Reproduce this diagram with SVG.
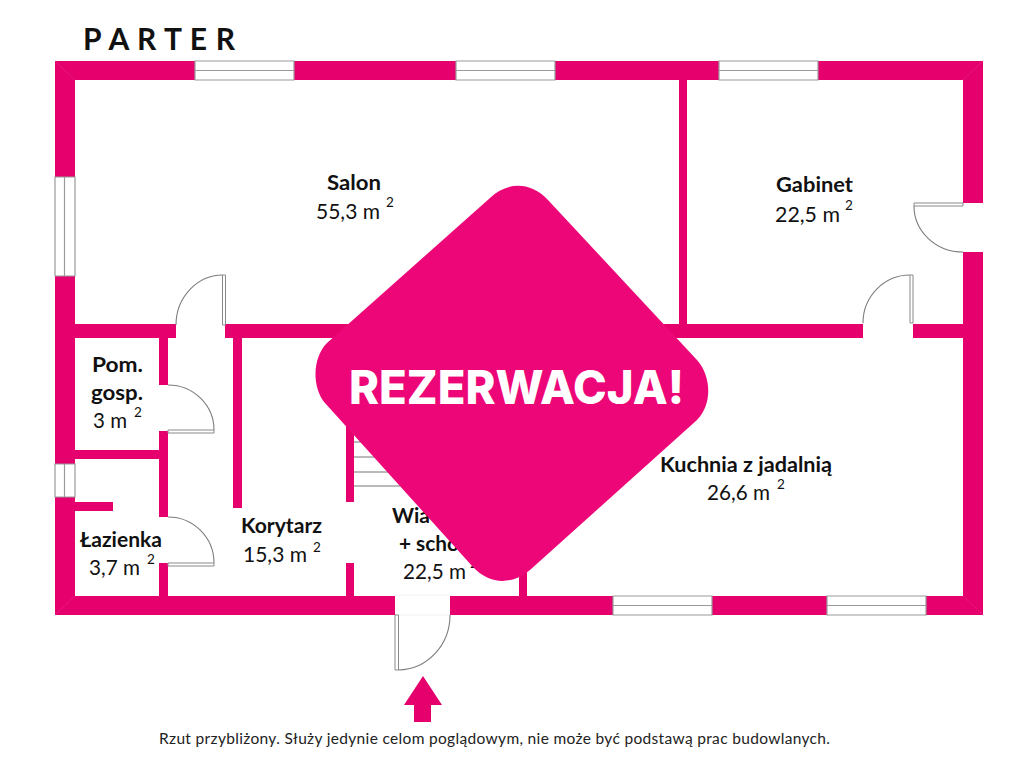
<svg xmlns="http://www.w3.org/2000/svg" width="1024" height="768" viewBox="0 0 1024 768">
<style>
text{font-family:Lato,"Open Sans","Liberation Sans",sans-serif;fill:#111}
.n{font-size:21.500px;font-weight:700}
.a{font-size:21.500px;font-weight:400}
.s{font-size:13.500px;font-weight:400}
.wall{fill:#e5006d}
.win{fill:#fff;stroke:#9a9a9a;stroke-width:1.2}
.gap{fill:#fff}
.door{fill:none;stroke:#7d7d7d;stroke-width:1.1}
.leaf{fill:#fff;stroke:#8a8a8a;stroke-width:1}
.step{stroke:#777;stroke-width:1.2}
</style>
<rect width="1024" height="768" fill="#fff"/>
<text x="83" y="50" font-size="30" font-weight="700" textLength="152" lengthAdjust="spacing">P A R T E R</text>
<g id="walls">
<path class="wall" fill-rule="evenodd" d="M55 61H983V615H55ZM75 80V596H963V80Z"/>
<rect class="wall" x="75" y="324" width="888" height="14"/>
<rect class="wall" x="679" y="80" width="8" height="245"/>
<rect class="wall" x="159" y="338" width="9" height="258"/>
<rect class="wall" x="75" y="450" width="85" height="9"/>
<rect class="wall" x="75" y="502" width="38" height="9"/>
<rect class="wall" x="233" y="338" width="9" height="170"/>
<rect class="wall" x="346" y="400" width="8" height="102"/>
<rect class="wall" x="346" y="563" width="8" height="33"/>
<rect class="wall" x="519" y="550" width="8" height="46"/>
<path d="M55 61L75 80M983 61L963 80M55 615L75 596M983 615L963 596" stroke="#ea2a84" stroke-width="0.6" fill="none"/>
</g>
<g id="windows">
<path class="win" d="M195 61H294V80H195ZM195 70.500H294"/>
<path class="win" d="M456 61H555V80H456ZM456 70.500H555"/>
<path class="win" d="M719 61H818V80H719ZM719 70.500H818"/>
<path class="win" d="M55 177H75V276H55ZM64.500 177V276"/>
<path class="win" d="M55 464H75V497H55ZM64.500 464V497"/>
<path class="win" d="M613 596H712V615H613ZM613 605.500H712"/>
<path class="win" d="M827 596H926V615H827ZM827 605.500H926"/>
</g>
<g id="stairs">
<path class="step" d="M354 442H400M354 457H400M354 472H400M354 486H400"/>
</g>
<g id="doors">
<rect class="gap" x="176" y="323" width="49" height="16"/>
<path class="leaf" d="M222.500 275H225.500V325H222.500Z"/>
<path class="door" d="M222.500 275A47 50 0 0 0 176 325"/>
<rect class="gap" x="863" y="323" width="50" height="16"/>
<path class="leaf" d="M910 275H913V323H910Z"/>
<path class="door" d="M910 275A47 48 0 0 0 863 323"/>
<rect class="gap" x="962" y="203" width="22" height="49"/>
<path class="leaf" d="M914 203H963V206H914Z"/>
<path class="door" d="M914 206A49 46 0 0 0 963 252"/>
<rect class="gap" x="158" y="385" width="11" height="46"/>
<path class="leaf" d="M168 430H214V433H168Z"/>
<path class="door" d="M168 385A46 45 0 0 1 214 430"/>
<rect class="gap" x="158" y="517" width="11" height="46"/>
<path class="leaf" d="M168 563H214V566H168Z"/>
<path class="door" d="M168 517A46 46 0 0 1 214 563"/>
<rect class="gap" x="395" y="595" width="55" height="21"/>
<path d="M395 595H450M395 615H450" stroke="#efefef" stroke-width="0.8"/>
<path class="leaf" d="M395 615H398.500V670H395Z"/>
<path class="door" d="M398.500 670A52 55 0 0 0 450 615"/>
</g>
<g id="labels">
<g id="salon"><text class="n" x="327" y="190" textLength="54" lengthAdjust="spacingAndGlyphs">Salon</text><text class="a" x="316" y="219" textLength="64" lengthAdjust="spacingAndGlyphs">55,3 m</text><text class="s" x="386" y="207">2</text></g>
<g id="gabinet"><text class="n" x="776" y="192" textLength="77" lengthAdjust="spacingAndGlyphs">Gabinet</text><text class="a" x="775" y="222" textLength="65" lengthAdjust="spacingAndGlyphs">22,5 m</text><text class="s" x="845" y="210">2</text></g>
<g id="pom"><text class="n" x="92" y="372" textLength="51" lengthAdjust="spacingAndGlyphs">Pom.</text><text class="n" x="91" y="400" textLength="52" lengthAdjust="spacingAndGlyphs">gosp.</text><text class="a" x="93" y="428" textLength="34" lengthAdjust="spacingAndGlyphs">3 m</text><text class="s" x="134" y="417">2</text></g>
<g id="lazienka"><text class="n" x="80" y="547" textLength="82" lengthAdjust="spacingAndGlyphs">Łazienka</text><text class="a" x="89" y="575" textLength="51" lengthAdjust="spacingAndGlyphs">3,7 m</text><text class="s" x="147" y="564">2</text></g>
<g id="korytarz"><text class="n" x="241" y="533" textLength="81" lengthAdjust="spacingAndGlyphs">Korytarz</text><text class="a" x="243" y="562" textLength="64" lengthAdjust="spacingAndGlyphs">15,3 m</text><text class="s" x="313" y="552">2</text></g>
<g id="wiatrolap"><text class="n" x="392" y="523" textLength="38" lengthAdjust="spacingAndGlyphs">Wia</text><text class="n" x="399" y="551" textLength="60" lengthAdjust="spacingAndGlyphs">+ scho</text><text class="a" x="403" y="579" textLength="63" lengthAdjust="spacingAndGlyphs">22,5 m</text><text class="s" x="470" y="568">2</text></g>
<g id="kuchnia"><text class="n" x="660" y="472" textLength="172" lengthAdjust="spacingAndGlyphs">Kuchnia z jadalnią</text><text class="a" x="707" y="500" textLength="63" lengthAdjust="spacingAndGlyphs">26,6 m</text><text class="s" x="777" y="489">2</text></g>
</g>
<g id="entrance-arrow">
<path class="wall" d="M423 676L442 705H431V722H414V705H404Z"/>
</g>
<g id="stamp">
<path d="M490 198C507 182 530 181 548 200L697 360C712 377 712 405 697 420L530 570C512 585 490 585 473 567L325 403C312 388 312 358 327 343Z" fill="#ed0677"/>
<text x="349" y="404" font-size="47" font-weight="800" textLength="335" lengthAdjust="spacingAndGlyphs" style="font-family:Inter,'Open Sans',sans-serif;fill:#fff">REZERWACJA!</text>
</g>
<text x="159" y="744" font-size="15.500" textLength="671" lengthAdjust="spacing" style="fill:#222">Rzut przybliżony. Służy jedynie celom poglądowym, nie może być podstawą prac budowlanych.</text>
</svg>
